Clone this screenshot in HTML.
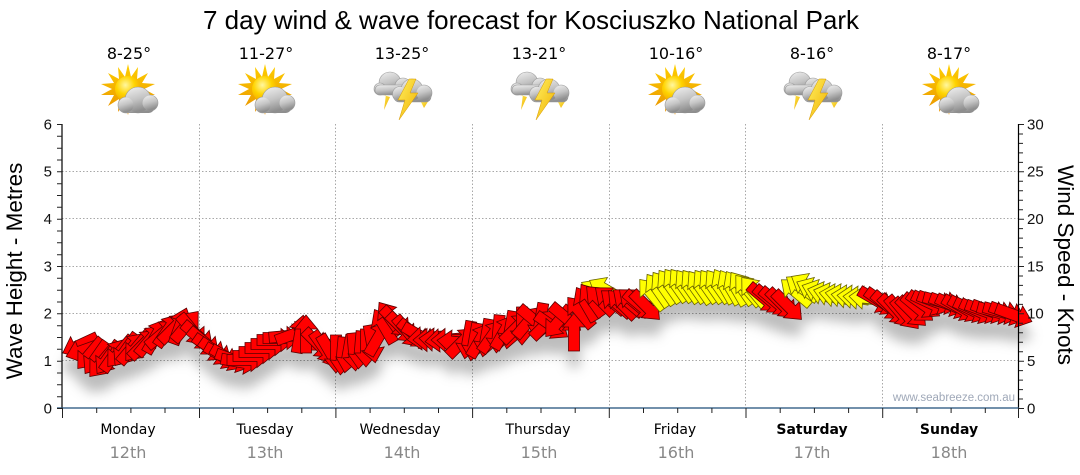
<!DOCTYPE html>
<html><head><meta charset="utf-8"><style>
html,body{margin:0;padding:0;background:#fff;width:1080px;height:475px;overflow:hidden}
svg{display:block}
</style></head><body>
<svg width="1080" height="475" viewBox="0 0 1080 475" xmlns="http://www.w3.org/2000/svg">
<defs>
<path id="ar" d="M-19,-5.5 L5,-5.5 L5,-11.5 L19,0 L5,11.5 L5,5.5 L-19,5.5 Z"/>
<radialGradient id="sunG" cx="0.4" cy="0.35" r="0.7"><stop offset="0" stop-color="#fff7a0"/><stop offset="0.5" stop-color="#ffd400"/><stop offset="1" stop-color="#f0a000"/></radialGradient>
<linearGradient id="rayG" x1="0" y1="0" x2="0" y2="1"><stop offset="0" stop-color="#ffd000"/><stop offset="1" stop-color="#e89000"/></linearGradient>
<linearGradient id="cloudG" x1="0" y1="0" x2="0.3" y2="1"><stop offset="0" stop-color="#f0f0f0"/><stop offset="0.55" stop-color="#c4c4c4"/><stop offset="1" stop-color="#8e8e8e"/></linearGradient>
<linearGradient id="boltG" x1="0" y1="0" x2="1" y2="1"><stop offset="0" stop-color="#fff060"/><stop offset="1" stop-color="#f0b000"/></linearGradient>
<g id="sc">
 <polygon fill="url(#rayG)" points="-2,64 1,77 8,67 7,79 18,73 12,83 25,84 14,89 25,95 12,95 18,106 7,99 8,112 1,102 -2,115 -5,102 -12,112 -11,99 -22,106 -16,95 -29,95 -18,89 -29,84 -16,83 -22,73 -11,79 -12,67 -5,77"/>
 <circle cx="-2" cy="89" r="13" fill="url(#sunG)"/>
 <g fill="url(#cloudG)" stroke="#9a9a9a" stroke-width="0.6">
  <circle cx="8" cy="100" r="13"/>
  <circle cx="20" cy="103" r="8"/>
  <circle cx="-4" cy="105" r="8"/>
 </g>
 <g fill="url(#cloudG)">
  <rect x="-6" y="101" width="30" height="12" rx="5"/>
  <circle cx="8" cy="100" r="12.5"/>
  <circle cx="20" cy="103" r="7.5"/>
  <circle cx="-4" cy="105" r="7.5"/>
 </g>
</g>
<g id="th">
 <polygon fill="url(#boltG)" points="-24,94 -18,94 -20,110 -14,97"/>
 <polygon fill="url(#boltG)" points="16,100 25,100 20,108"/>
 <g fill="url(#cloudG)" stroke="#999" stroke-width="0.6">
  <circle cx="-14" cy="83" r="11"/>
  <circle cx="-24" cy="89" r="6"/>
  <circle cx="-1" cy="86" r="8"/>
  <rect x="-29" y="85" width="33" height="10" rx="5"/>
 </g>
 <g fill="url(#cloudG)" stroke="#999" stroke-width="0.6">
  <circle cx="8" cy="90" r="11"/>
  <circle cx="20" cy="93" r="8"/>
  <circle cx="-4" cy="94" r="7.5"/>
  <rect x="-10" y="91" width="37" height="11" rx="5"/>
 </g>
 <g fill="url(#cloudG)">
  <circle cx="8" cy="90" r="10.5"/>
  <circle cx="20" cy="93" r="7.5"/>
  <circle cx="-4" cy="94" r="7"/>
 </g>
 <polygon fill="url(#boltG)" stroke="#d89a00" stroke-width="0.5" points="5,79 -6,100 1,100 -5,120 14,93 6,93 12,79"/>
</g>
<filter id="sh" x="-5%" y="-30%" width="110%" height="200%">
 <feDropShadow dx="0" dy="16" stdDeviation="6" flood-color="#000" flood-opacity="0.26"/>
</filter>
</defs>

<!-- title -->
<text x="531" y="29" font-family="Liberation Sans, Arial, sans-serif" font-size="26" text-anchor="middle" fill="#000">7 day wind &amp; wave forecast for Kosciuszko National Park</text>

<!-- temps -->
<g font-family="DejaVu Sans, Verdana, sans-serif" font-size="16" text-anchor="middle" fill="#000">
<text x="129" y="59">8-25°</text>
<text x="266" y="59">11-27°</text>
<text x="402" y="59">13-25°</text>
<text x="539" y="59">13-21°</text>
<text x="676" y="59">10-16°</text>
<text x="812" y="59">8-16°</text>
<text x="949" y="59">8-17°</text>
</g>
<!-- icons -->
<use href="#sc" transform="translate(130,0)"/>
<use href="#sc" transform="translate(267,0)"/>
<use href="#th" transform="translate(404,0)"/>
<use href="#th" transform="translate(541,0)"/>
<use href="#sc" transform="translate(677,0)"/>
<use href="#th" transform="translate(814,0)"/>
<use href="#sc" transform="translate(951,0)"/>

<!-- grid -->
<g stroke="#a8a8a8" stroke-width="1" stroke-dasharray="1.5,2" fill="none">
<line x1="62" y1="171.5" x2="1018" y2="171.5"/>
<line x1="62" y1="218.5" x2="1018" y2="218.5"/>
<line x1="62" y1="266.5" x2="1018" y2="266.5"/>
<line x1="62" y1="313.5" x2="1018" y2="313.5"/>
<line x1="62" y1="360.5" x2="1018" y2="360.5"/>
<line x1="199.5" y1="124" x2="199.5" y2="408"/>
<line x1="335.5" y1="124" x2="335.5" y2="408"/>
<line x1="472.5" y1="124" x2="472.5" y2="408"/>
<line x1="609.5" y1="124" x2="609.5" y2="408"/>
<line x1="745.5" y1="124" x2="745.5" y2="408"/>
<line x1="882.5" y1="124" x2="882.5" y2="408"/>
</g>

<!-- watermark -->
<text x="1015" y="401" font-family="Liberation Sans, Arial, sans-serif" font-size="11.5" text-anchor="end" fill="#9fa8b8">www.seabreeze.com.au</text>

<!-- arrows -->
<g filter="url(#sh)" stroke-width="0.8" stroke-linejoin="miter">
<g fill="#ff0000" stroke="#5a0000">
<use href="#ar" transform="translate(80,345) rotate(155)"/>
<use href="#ar" transform="translate(84,350) rotate(160)"/>
<use href="#ar" transform="translate(90,354) rotate(130)"/>
<use href="#ar" transform="translate(96,358) rotate(125)"/>
<use href="#ar" transform="translate(102,362) rotate(130)"/>
<use href="#ar" transform="translate(108,358) rotate(125)"/>
<use href="#ar" transform="translate(114,355) rotate(-55)"/>
<use href="#ar" transform="translate(120,352) rotate(130)"/>
<use href="#ar" transform="translate(126,350) rotate(125)"/>
<use href="#ar" transform="translate(132,348) rotate(-50)"/>
<use href="#ar" transform="translate(138,346) rotate(130)"/>
<use href="#ar" transform="translate(144,344) rotate(-45)"/>
<use href="#ar" transform="translate(150,340) rotate(-50)"/>
<use href="#ar" transform="translate(156,336) rotate(-60)"/>
<use href="#ar" transform="translate(162,334) rotate(-40)"/>
<use href="#ar" transform="translate(168,330) rotate(-55)"/>
<use href="#ar" transform="translate(174,328) rotate(-45)"/>
<use href="#ar" transform="translate(180,326) rotate(-70)"/>
<use href="#ar" transform="translate(186,326) rotate(-50)"/>
<use href="#ar" transform="translate(192,330) rotate(50)"/>
<use href="#ar" transform="translate(198,336) rotate(40)"/>
<use href="#ar" transform="translate(204,342) rotate(40)"/>
<use href="#ar" transform="translate(210,348) rotate(35)"/>
<use href="#ar" transform="translate(216,352) rotate(35)"/>
<use href="#ar" transform="translate(222,356) rotate(30)"/>
<use href="#ar" transform="translate(228,358) rotate(30)"/>
<use href="#ar" transform="translate(234,360) rotate(20)"/>
<use href="#ar" transform="translate(240,362) rotate(10)"/>
<use href="#ar" transform="translate(246,360) rotate(0)"/>
<use href="#ar" transform="translate(252,356) rotate(0)"/>
<use href="#ar" transform="translate(258,352) rotate(0)"/>
<use href="#ar" transform="translate(264,348) rotate(0)"/>
<use href="#ar" transform="translate(270,344) rotate(0)"/>
<use href="#ar" transform="translate(276,340) rotate(0)"/>
<use href="#ar" transform="translate(282,338) rotate(0)"/>
<use href="#ar" transform="translate(288,336) rotate(-5)"/>
<use href="#ar" transform="translate(294,334) rotate(-20)"/>
<use href="#ar" transform="translate(312,338) rotate(40)"/>
<use href="#ar" transform="translate(300,334) rotate(-80)"/>
<use href="#ar" transform="translate(306,334) rotate(-90)"/>
<use href="#ar" transform="translate(318,344) rotate(45)"/>
<use href="#ar" transform="translate(324,348) rotate(55)"/>
<use href="#ar" transform="translate(330,352) rotate(60)"/>
<use href="#ar" transform="translate(336,354) rotate(90)"/>
<use href="#ar" transform="translate(342,356) rotate(95)"/>
<use href="#ar" transform="translate(348,354) rotate(100)"/>
<use href="#ar" transform="translate(354,352) rotate(85)"/>
<use href="#ar" transform="translate(360,350) rotate(95)"/>
<use href="#ar" transform="translate(366,348) rotate(90)"/>
<use href="#ar" transform="translate(372,344) rotate(80)"/>
<use href="#ar" transform="translate(378,338) rotate(-60)"/>
<use href="#ar" transform="translate(384,326) rotate(-120)"/>
<use href="#ar" transform="translate(390,318) rotate(-125)"/>
<use href="#ar" transform="translate(396,322) rotate(45)"/>
<use href="#ar" transform="translate(402,328) rotate(45)"/>
<use href="#ar" transform="translate(408,332) rotate(50)"/>
<use href="#ar" transform="translate(414,334) rotate(40)"/>
<use href="#ar" transform="translate(420,336) rotate(30)"/>
<use href="#ar" transform="translate(426,338) rotate(175)"/>
<use href="#ar" transform="translate(432,340) rotate(180)"/>
<use href="#ar" transform="translate(438,340) rotate(185)"/>
<use href="#ar" transform="translate(444,340) rotate(175)"/>
<use href="#ar" transform="translate(450,340) rotate(180)"/>
<use href="#ar" transform="translate(456,342) rotate(185)"/>
<use href="#ar" transform="translate(462,342) rotate(-45)"/>
<use href="#ar" transform="translate(468,340) rotate(100)"/>
<use href="#ar" transform="translate(474,342) rotate(100)"/>
<use href="#ar" transform="translate(480,340) rotate(-60)"/>
<use href="#ar" transform="translate(486,338) rotate(100)"/>
<use href="#ar" transform="translate(492,336) rotate(-55)"/>
<use href="#ar" transform="translate(498,334) rotate(95)"/>
<use href="#ar" transform="translate(504,332) rotate(-60)"/>
<use href="#ar" transform="translate(510,330) rotate(100)"/>
<use href="#ar" transform="translate(516,328) rotate(-45)"/>
<use href="#ar" transform="translate(522,326) rotate(90)"/>
<use href="#ar" transform="translate(528,322) rotate(-50)"/>
<use href="#ar" transform="translate(534,320) rotate(40)"/>
<use href="#ar" transform="translate(540,322) rotate(100)"/>
<use href="#ar" transform="translate(546,324) rotate(-45)"/>
<use href="#ar" transform="translate(552,326) rotate(35)"/>
<use href="#ar" transform="translate(558,322) rotate(130)"/>
<use href="#ar" transform="translate(566,318) rotate(40)"/>
<use href="#ar" transform="translate(574,332) rotate(-90)"/>
<use href="#ar" transform="translate(580,312) rotate(-130)"/>
<use href="#ar" transform="translate(586,304) rotate(-120)"/>
</g>
<g fill="#ffff00" stroke="#6a6400">
<use href="#ar" transform="translate(598,292) rotate(-150)"/>
<use href="#ar" transform="translate(606,290) rotate(-150)"/>
</g>
<g fill="#ff0000" stroke="#5a0000">
<use href="#ar" transform="translate(592,300) rotate(-125)"/>
<use href="#ar" transform="translate(600,300) rotate(-135)"/>
<use href="#ar" transform="translate(610,300) rotate(-140)"/>
<use href="#ar" transform="translate(616,303) rotate(-140)"/>
<use href="#ar" transform="translate(622,304) rotate(-135)"/>
<use href="#ar" transform="translate(628,302) rotate(-140)"/>
<use href="#ar" transform="translate(634,302) rotate(-140)"/>
<use href="#ar" transform="translate(640,305) rotate(40)"/>
<use href="#ar" transform="translate(646,306) rotate(45)"/>
</g>
<g fill="#ffff00" stroke="#6a6400">
<use href="#ar" transform="translate(652,294) rotate(-130)"/>
<use href="#ar" transform="translate(658,290) rotate(-125)"/>
<use href="#ar" transform="translate(664,288) rotate(-125)"/>
<use href="#ar" transform="translate(670,286) rotate(-125)"/>
<use href="#ar" transform="translate(676,285) rotate(-125)"/>
<use href="#ar" transform="translate(682,285) rotate(-125)"/>
<use href="#ar" transform="translate(688,286) rotate(-125)"/>
<use href="#ar" transform="translate(694,286) rotate(-125)"/>
<use href="#ar" transform="translate(700,287) rotate(-125)"/>
<use href="#ar" transform="translate(706,286) rotate(-125)"/>
<use href="#ar" transform="translate(712,286) rotate(-125)"/>
<use href="#ar" transform="translate(718,286) rotate(-125)"/>
<use href="#ar" transform="translate(724,286) rotate(-120)"/>
<use href="#ar" transform="translate(730,287) rotate(-120)"/>
<use href="#ar" transform="translate(736,288) rotate(-120)"/>
<use href="#ar" transform="translate(742,288) rotate(-125)"/>
<use href="#ar" transform="translate(748,290) rotate(-130)"/>
<use href="#ar" transform="translate(754,292) rotate(-130)"/>
</g>
<g fill="#ff0000" stroke="#5a0000">
<use href="#ar" transform="translate(764,298) rotate(40)"/>
<use href="#ar" transform="translate(770,300) rotate(40)"/>
<use href="#ar" transform="translate(776,302) rotate(40)"/>
<use href="#ar" transform="translate(782,304) rotate(45)"/>
<use href="#ar" transform="translate(788,306) rotate(45)"/>
</g>
<g fill="#ffff00" stroke="#6a6400">
<use href="#ar" transform="translate(796,292) rotate(-140)"/>
<use href="#ar" transform="translate(802,288) rotate(-145)"/>
<use href="#ar" transform="translate(808,286) rotate(-150)"/>
<use href="#ar" transform="translate(814,290) rotate(-155)"/>
<use href="#ar" transform="translate(820,292) rotate(-160)"/>
<use href="#ar" transform="translate(826,294) rotate(-165)"/>
<use href="#ar" transform="translate(832,295) rotate(-165)"/>
<use href="#ar" transform="translate(838,296) rotate(-170)"/>
<use href="#ar" transform="translate(844,296) rotate(-170)"/>
<use href="#ar" transform="translate(850,297) rotate(-172)"/>
<use href="#ar" transform="translate(856,297) rotate(-175)"/>
<use href="#ar" transform="translate(862,298) rotate(-175)"/>
<use href="#ar" transform="translate(868,298) rotate(-175)"/>
</g>
<g fill="#ff0000" stroke="#5a0000">
<use href="#ar" transform="translate(876,300) rotate(30)"/>
<use href="#ar" transform="translate(882,302) rotate(35)"/>
<use href="#ar" transform="translate(888,306) rotate(40)"/>
<use href="#ar" transform="translate(894,310) rotate(45)"/>
<use href="#ar" transform="translate(900,312) rotate(50)"/>
<use href="#ar" transform="translate(906,314) rotate(50)"/>
<use href="#ar" transform="translate(912,312) rotate(45)"/>
<use href="#ar" transform="translate(918,308) rotate(40)"/>
<use href="#ar" transform="translate(924,305) rotate(35)"/>
<use href="#ar" transform="translate(930,303) rotate(25)"/>
<use href="#ar" transform="translate(936,302) rotate(20)"/>
<use href="#ar" transform="translate(942,302) rotate(15)"/>
<use href="#ar" transform="translate(948,304) rotate(20)"/>
<use href="#ar" transform="translate(954,306) rotate(25)"/>
<use href="#ar" transform="translate(960,308) rotate(30)"/>
<use href="#ar" transform="translate(966,309) rotate(30)"/>
<use href="#ar" transform="translate(972,310) rotate(25)"/>
<use href="#ar" transform="translate(978,311) rotate(25)"/>
<use href="#ar" transform="translate(984,311) rotate(20)"/>
<use href="#ar" transform="translate(990,311) rotate(20)"/>
<use href="#ar" transform="translate(996,312) rotate(15)"/>
<use href="#ar" transform="translate(1002,312) rotate(15)"/>
<use href="#ar" transform="translate(1008,313) rotate(20)"/>
<use href="#ar" transform="translate(1014,315) rotate(20)"/>
</g>
</g>

<!-- axes -->
<line x1="62" y1="124" x2="62" y2="408.5" stroke="#000" stroke-width="1.2"/>
<line x1="1018.5" y1="124" x2="1018.5" y2="408.5" stroke="#000" stroke-width="1.2"/>
<line x1="57" y1="408" x2="1019" y2="408" stroke="#1f4e79" stroke-width="1.3"/>
<!-- ticks -->
<g stroke="#222" stroke-width="1">
<path d="M57,124.5H62M57,136.3H62M57,148.2H62M57,160H62M57,171.8H62M57,183.7H62M57,195.5H62M57,207.3H62M57,219.2H62M57,231H62M57,242.8H62M57,254.7H62M57,266.5H62M57,278.3H62M57,290.2H62M57,302H62M57,313.8H62M57,325.7H62M57,337.5H62M57,349.3H62M57,361.2H62M57,373H62M57,384.8H62M57,396.7H62M57,408.5H62"/>
<path d="M1019,124.5H1024M1019,134H1023M1019,143.4H1023M1019,152.9H1023M1019,162.4H1023M1019,171.8H1024M1019,181.3H1023M1019,190.8H1023M1019,200.2H1023M1019,209.7H1023M1019,219.2H1024M1019,228.6H1023M1019,238.1H1023M1019,247.6H1023M1019,257H1023M1019,266.5H1024M1019,276H1023M1019,285.4H1023M1019,294.9H1023M1019,304.4H1023M1019,313.8H1024M1019,323.3H1023M1019,332.8H1023M1019,342.2H1023M1019,351.7H1023M1019,361.2H1024M1019,370.6H1023M1019,380.1H1023M1019,389.6H1023M1019,399H1023M1019,408.5H1024"/>
<path d="M62.5,408V418M96.7,408V413M130.9,408V413M165,408V413M199.5,408V418M233.4,408V413M267.6,408V413M301.8,408V413M335.9,408V418M370.1,408V413M404.3,408V413M438.5,408V413M472.6,408V418M506.8,408V413M541,408V413M575.2,408V413M609.3,408V418M643.5,408V413M677.7,408V413M711.9,408V413M746,408V418M780.2,408V413M814.4,408V413M848.6,408V413M882.7,408V418M916.9,408V413M951.1,408V413M985.3,408V413M1018.5,408V418"/>
</g>
<!-- tick labels -->
<g font-family="Liberation Sans, Arial, sans-serif" font-size="15" fill="#111">
<g text-anchor="end">
<text x="52" y="129.5">6</text>
<text x="52" y="176.5">5</text>
<text x="52" y="224">4</text>
<text x="52" y="271.5">3</text>
<text x="52" y="318.5">2</text>
<text x="52" y="366">1</text>
<text x="52" y="413.5">0</text>
</g>
<text x="1027" y="129.5">30</text>
<text x="1027" y="176.5">25</text>
<text x="1027" y="224">20</text>
<text x="1027" y="271.5">15</text>
<text x="1027" y="318.5">10</text>
<text x="1027" y="366">5</text>
<text x="1027" y="413.5">0</text>
</g>
<!-- axis titles -->
<text transform="translate(22,271) rotate(-90)" font-family="Liberation Sans, Arial, sans-serif" font-size="22.5" text-anchor="middle" fill="#000">Wave Height - Metres</text>
<text transform="translate(1058,265) rotate(90)" font-family="Liberation Sans, Arial, sans-serif" font-size="22.5" text-anchor="middle" fill="#000">Wind Speed - Knots</text>

<!-- day labels -->
<g font-family="DejaVu Sans, Verdana, sans-serif" text-anchor="middle">
<g font-size="14" fill="#000">
<text x="128" y="434">Monday</text>
<text x="265" y="434">Tuesday</text>
<text x="400" y="434">Wednesday</text>
<text x="538" y="434">Thursday</text>
<text x="675" y="434">Friday</text>
<text x="812" y="434" font-weight="bold">Saturday</text>
<text x="949" y="434" font-weight="bold">Sunday</text>
</g>
<g font-size="16" fill="#888">
<text x="128" y="458">12th</text>
<text x="265" y="458">13th</text>
<text x="402" y="458">14th</text>
<text x="539" y="458">15th</text>
<text x="676" y="458">16th</text>
<text x="812" y="458">17th</text>
<text x="949" y="458">18th</text>
</g>
</g>
</svg>
</body></html>
